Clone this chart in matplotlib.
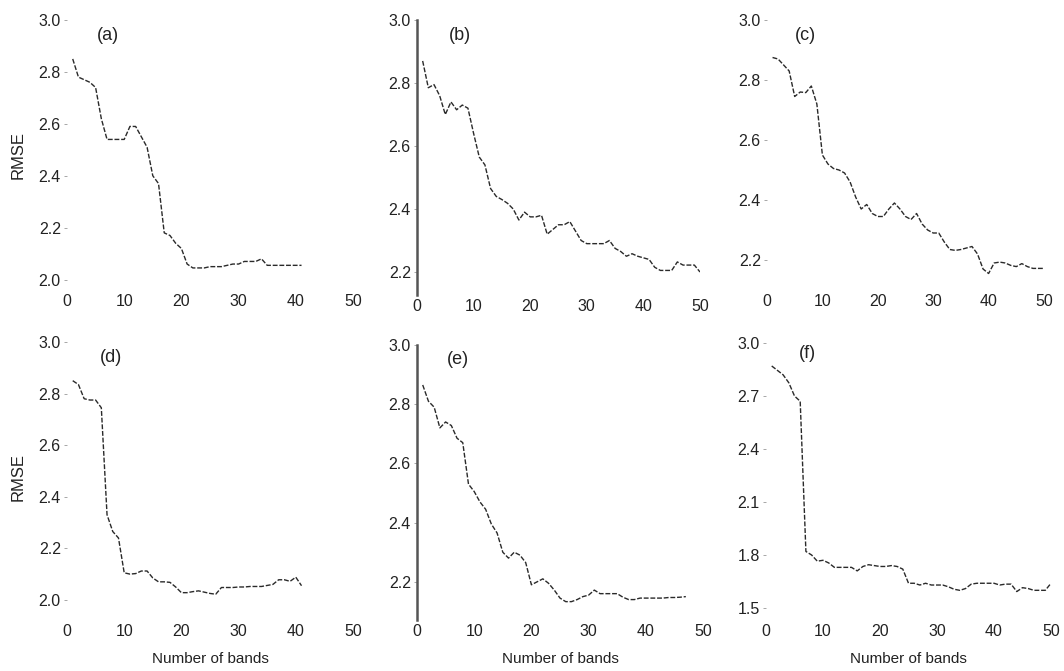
import numpy as np
import matplotlib.pyplot as plt

plt.rcParams['font.family'] = ['Liberation Sans', 'DejaVu Sans']
plt.rcParams['font.size'] = 11.5

# RMSE against the number of selected bands, one series per panel
rmse_a = [2.85, 2.78, 2.77, 2.76, 2.74, 2.62, 2.54, 2.54, 2.54, 2.54,
          2.59, 2.59, 2.55, 2.51, 2.40, 2.37, 2.18, 2.17, 2.14, 2.12,
          2.06, 2.045, 2.045, 2.045, 2.05, 2.05, 2.05, 2.055, 2.06, 2.06,
          2.07, 2.07, 2.07, 2.08, 2.055, 2.055, 2.055, 2.055, 2.055, 2.055,
          2.055]
rmse_b = [2.87, 2.785, 2.795, 2.76, 2.70, 2.74, 2.715, 2.73, 2.72, 2.64,
          2.565, 2.54, 2.465, 2.44, 2.43, 2.418, 2.40, 2.365, 2.39, 2.375,
          2.375, 2.38, 2.32, 2.335, 2.35, 2.35, 2.36, 2.33, 2.30, 2.29,
          2.29, 2.29, 2.29, 2.30, 2.275, 2.265, 2.25, 2.258, 2.25, 2.245,
          2.24, 2.215, 2.205, 2.205, 2.205, 2.232, 2.222, 2.222, 2.222, 2.20]
rmse_c = [2.875, 2.87, 2.85, 2.83, 2.745, 2.76, 2.758, 2.78, 2.72, 2.55,
          2.52, 2.505, 2.50, 2.49, 2.46, 2.41, 2.37, 2.385, 2.355, 2.345,
          2.345, 2.37, 2.39, 2.37, 2.345, 2.335, 2.355, 2.32, 2.30, 2.29,
          2.29, 2.26, 2.235, 2.232, 2.235, 2.24, 2.245, 2.22, 2.17, 2.155,
          2.19, 2.193, 2.19, 2.182, 2.178, 2.188, 2.178, 2.172, 2.172, 2.172]
rmse_d = [2.85, 2.835, 2.78, 2.775, 2.775, 2.745, 2.33, 2.265, 2.24, 2.105,
          2.10, 2.102, 2.112, 2.112, 2.085, 2.07, 2.07, 2.068, 2.05, 2.028,
          2.028, 2.032, 2.035, 2.03, 2.025, 2.022, 2.048, 2.048, 2.048, 2.05,
          2.05, 2.052, 2.052, 2.052, 2.056, 2.06, 2.078, 2.078, 2.072, 2.088,
          2.055]
rmse_e = [2.865, 2.81, 2.79, 2.72, 2.74, 2.728, 2.685, 2.67, 2.53, 2.505,
          2.47, 2.445, 2.395, 2.365, 2.30, 2.28, 2.30, 2.29, 2.265, 2.19,
          2.20, 2.21, 2.195, 2.172, 2.145, 2.133, 2.133, 2.14, 2.15, 2.155,
          2.172, 2.16, 2.16, 2.16, 2.16, 2.148, 2.14, 2.14, 2.145, 2.145,
          2.145, 2.145, 2.145, 2.147, 2.147, 2.148, 2.15]
rmse_f = [2.87, 2.845, 2.82, 2.775, 2.70, 2.67, 1.82, 1.80, 1.765, 1.77,
          1.755, 1.73, 1.73, 1.73, 1.73, 1.71, 1.735, 1.745, 1.74, 1.735,
          1.735, 1.74, 1.735, 1.72, 1.64, 1.64, 1.63, 1.64, 1.63, 1.63,
          1.63, 1.62, 1.606, 1.60, 1.61, 1.635, 1.64, 1.64, 1.64, 1.64,
          1.63, 1.635, 1.635, 1.593, 1.615, 1.61, 1.60, 1.60, 1.60, 1.64]

panel_names = ["(a)", "(b)", "(c)", "(d)", "(e)", "(f)"]
x_ticks = [0, 10, 20, 30, 40, 50]
y_ticks_02 = [2.0, 2.2, 2.4, 2.6, 2.8, 3.0]
y_ticks_b = [2.2, 2.4, 2.6, 2.8, 3.0]
y_ticks_f = [1.5, 1.8, 2.1, 2.4, 2.7, 3.0]

W, H = 1064, 671
fig = plt.figure(figsize=(W / 100, H / 100), dpi=100)


def px_axes(left, right, top, bottom):
    return fig.add_axes([left / W, 1 - bottom / H, (right - left) / W, (bottom - top) / H])


# (series, axes box in pixels, ylim, yticks, show left spine, label position)
panels = [
    (rmse_a, (67, 353, 20, 290), (1.96, 3.0), y_ticks_02, False, (5.3, 2.94)),
    (rmse_b, (417, 700, 20, 295), (2.127, 3.0), y_ticks_b, True, (5.6, 2.95)),
    (rmse_c, (767, 1044, 20, 290), (2.10, 3.0), y_ticks_b, False, (5.0, 2.95)),
    (rmse_d, (67, 353, 342, 620), (1.922, 3.0), y_ticks_02, False, (5.8, 2.94)),
    (rmse_e, (417, 703, 345, 620), (2.071, 3.0), y_ticks_b, True, (5.2, 2.95)),
    (rmse_f, (766, 1051, 343, 620), (1.432, 3.0), y_ticks_f, False, (5.8, 2.94)),
]

axes = []
for i, (vals, box, ylim, yt, spine, lab) in enumerate(panels):
    ax = px_axes(*box)
    bands = np.arange(1, len(vals) + 1)
    ax.plot(bands, vals, color='#2a2a2a', linewidth=1.0,
            linestyle=(0, (3.5, 1.3)))
    ax.set_xlim(0, 50)
    ax.set_ylim(*ylim)
    ax.set_xticks(x_ticks)
    ax.set_yticks(yt)
    ax.yaxis.set_major_formatter(plt.FormatStrFormatter('%.1f'))
    for side in ['top', 'right', 'bottom']:
        ax.spines[side].set_visible(False)
    ax.spines['left'].set_visible(spine)
    ax.spines['left'].set_color('#555555')
    ax.spines['left'].set_linewidth(1.8)
    ax.tick_params(axis='x', length=0, pad=3, labelcolor='#222222')
    ax.tick_params(axis='y', length=2, width=0.6, color='#999999',
                   pad=2.5, labelcolor='#222222')
    ax.text(lab[0], lab[1], panel_names[i], fontsize=13, color='#222222',
            va='center', ha='left')
    axes.append(ax)

for ax in axes[3:]:
    ax.set_xlabel("Number of bands", color='#222222', fontsize=11, labelpad=9)

fig.text(18 / W, 1 - 155 / H, "RMSE", rotation=90, ha='center', va='center',
         color='#222222', fontsize=12)
fig.text(18 / W, 1 - 477 / H, "RMSE", rotation=90, ha='center', va='center',
         color='#222222', fontsize=12)

fig.savefig("out.png", dpi=100)
